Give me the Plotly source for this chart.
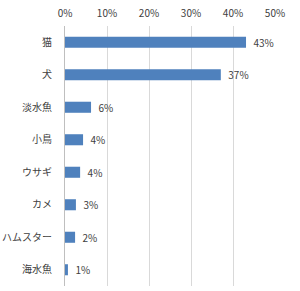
import plotly.graph_objects as go

categories = ["猫", "犬", "淡水魚", "小鳥", "ウサギ", "カメ", "ハムスター", "海水魚"]
values = [43.1, 37.1, 6.2, 4.3, 3.6, 2.6, 2.4, 0.7]
labels = ["43%", "37%", "6%", "4%", "4%", "3%", "2%", "1%"]
tick_vals = [0, 10, 20, 30, 40, 50]
tick_text = ["0%", "10%", "20%", "30%", "40%", "50%"]

font = "Noto Sans CJK JP"

fig = go.Figure(go.Bar(
    y=categories, x=values, orientation="h",
    marker=dict(color="#4F81BD", line=dict(width=0)),
    text=labels, texttemplate="\u00a0\u00a0%{text}",
    textposition="outside", cliponaxis=False, constraintext="none",
    textfont=dict(family=font, size=10, color="#404040"),
))
fig.update_layout(
    width=300, height=291,
    margin=dict(l=65, r=25, t=26, b=5),
    paper_bgcolor="white", plot_bgcolor="white",
    bargap=0.66, showlegend=False,
    font=dict(family=font, size=10, color="#404040"),
    xaxis=dict(side="top", range=[0, 50], tickvals=tick_vals, ticktext=tick_text,
               showgrid=True, gridcolor="#d9d9d9", gridwidth=1, zeroline=False,
               showline=False, ticks="", fixedrange=True, ticklabelstandoff=6,
               automargin=False,
               tickfont=dict(family=font, size=10, color="#404040")),
    yaxis=dict(autorange="reversed", showline=True, linecolor="#bfbfbf", linewidth=1,
               ticks="", ticklabelstandoff=10, showgrid=False, automargin=False,
               tickfont=dict(family=font, size=10, color="#404040")),
)
fig.write_html("out.html")
